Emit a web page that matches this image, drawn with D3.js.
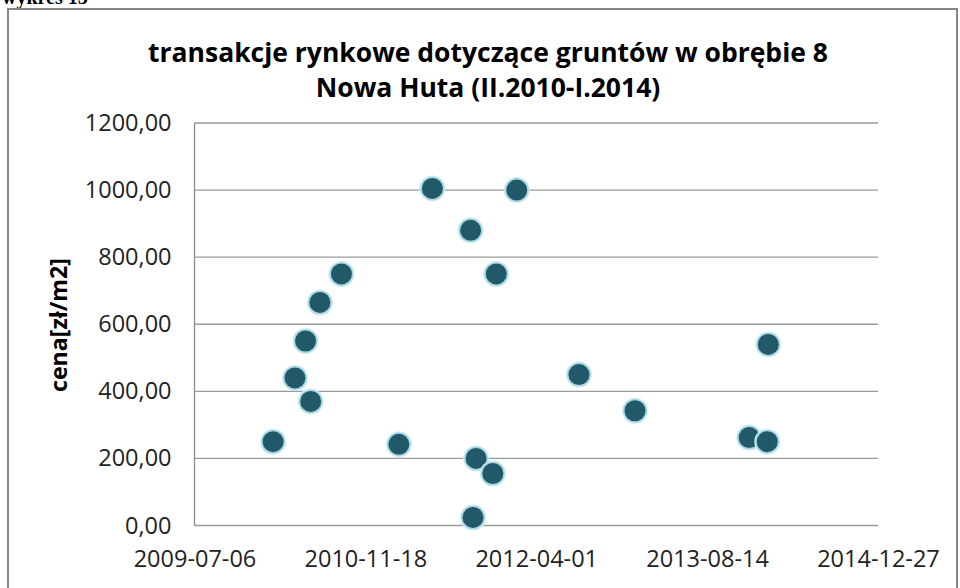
<!DOCTYPE html>
<html>
<head>
<meta charset="utf-8">
<script src="https://cdn.jsdelivr.net/npm/d3@7"></script>
<style>
  body { margin: 0; background: #fff; }
  svg { display: block; }
  text { font-family: "Open Sans", sans-serif; }
</style>
</head>
<body>
<svg id="chart" width="960" height="588"></svg>
<script>
// transakcje - dane
var dates = ["2010-02-21","2010-04-26","2010-05-27","2010-06-11","2010-07-08","2010-09-09",
             "2011-02-24","2011-06-02","2011-09-22","2011-09-29","2011-10-08","2011-11-26",
             "2011-12-06","2012-02-04","2012-08-04","2013-01-15","2013-12-15","2014-02-06","2014-02-09"];
var prices = [250, 440, 550, 370, 665, 750,
              242, 1005, 880, 24, 200, 155,
              750, 1000, 450, 342, 262, 250, 540];
var xTickLabels = ["2009-07-06","2010-11-18","2012-04-01","2013-08-14","2014-12-27"];
var yTicks = [0, 200, 400, 600, 800, 1000, 1200];
var titleLines = ["transakcje rynkowe dotyczące gruntów w obrębie 8", "Nowa Huta (II.2010-I.2014)"];

var parse = d3.utcParse("%Y-%m-%d");
var svg = d3.select("#chart");

var plotL = 194.5, plotR = 878, plotT = 123, plotB = 525.5;

var x = d3.scaleUtc()
  .domain([parse(xTickLabels[0]), parse(xTickLabels[xTickLabels.length - 1])])
  .range([plotL, plotR]);
var y = d3.scaleLinear().domain([0, 1200]).range([plotB, plotT]);

// shrink/grow a text to a wanted width
function fitWidth(sel, w) {
  sel.each(function() {
    var fs = parseFloat(this.style.fontSize);
    var len = this.getComputedTextLength();
    d3.select(this).style("font-size", (fs * w / len) + "px");
  });
}

// caption above the frame (cut off)
svg.append("text")
  .attr("x", 2).attr("y", 4)
  .style("font-family", "'Liberation Serif', serif")
  .style("font-weight", "bold").style("font-size", "20px")
  .text("wykres 13");

// chart frame
svg.append("rect")
  .attr("x", 8).attr("y", 9).attr("width", 949).attr("height", 600)
  .style("fill", "#fff").style("stroke", "#868686").style("stroke-width", 2);

// title
var title = svg.append("g").selectAll("text")
  .data(titleLines)
  .enter().append("text")
  .attr("x", 488).attr("y", function(d, i) { return 62 + i * 35; })
  .attr("text-anchor", "middle")
  .style("font-weight", "bold").style("font-size", "22px").style("fill", "#000")
  .text(function(d) { return d; });
fitWidth(title.filter(function(d, i) { return i === 0; }), 680);
title.filter(function(d, i) { return i === 1; })
  .style("font-size", d3.select(title.nodes()[0]).style("font-size"));

// gridlines
svg.append("g").selectAll("line")
  .data(yTicks)
  .enter().append("line")
  .attr("x1", plotL).attr("x2", plotR)
  .attr("y1", function(d) { return y(d); }).attr("y2", function(d) { return y(d); })
  .style("stroke", "#9a9a9a").style("stroke-width", 1.3);

// y axis line
svg.append("line")
  .attr("x1", plotL).attr("x2", plotL).attr("y1", plotT).attr("y2", plotB)
  .style("stroke", "#8a8a8a").style("stroke-width", 1.3);

var yAxis = d3.axisLeft(y).tickValues(yTicks).tickSize(0).tickPadding(23)
  .tickFormat(function(d) { return d3.format(".2f")(d).replace(".", ","); });
var gy = svg.append("g").attr("transform", "translate(" + plotL + ",0)").call(yAxis);
gy.select(".domain").remove();
gy.selectAll("text").style("font-size", "23.5px").style("fill", "#222")
  .style("font-family", "'Open Sans', sans-serif");

var xAxis = d3.axisBottom(x).tickValues(xTickLabels.map(parse)).tickSize(0).tickPadding(25)
  .tickFormat(d3.utcFormat("%Y-%m-%d"));
var gx = svg.append("g").attr("transform", "translate(0," + plotB + ")").call(xAxis);
gx.select(".domain").remove();
gx.selectAll("text").style("font-size", "23.5px").style("fill", "#222")
  .style("font-family", "'Open Sans', sans-serif");

// y axis title
var yTitle = svg.append("text")
  .attr("transform", "translate(67,325) rotate(-90)")
  .attr("text-anchor", "middle")
  .style("font-weight", "bold").style("font-size", "20px")
  .text("cena[zł/m2]");
fitWidth(yTitle, 134);

// points
var pts = dates.map(function(d, i) { return { date: parse(d), price: prices[i] }; });
var dots = svg.append("g").selectAll("g")
  .data(pts)
  .enter().append("g")
  .attr("transform", function(d) { return "translate(" + x(d.date) + "," + y(d.price) + ")"; });
dots.append("circle").attr("r", 13).style("fill", "#d4edf3");
dots.append("circle").attr("r", 12).style("fill", "#a9d8e4");
dots.append("circle").attr("r", 10.5).style("fill", "#215968");
</script>
</body>
</html>
